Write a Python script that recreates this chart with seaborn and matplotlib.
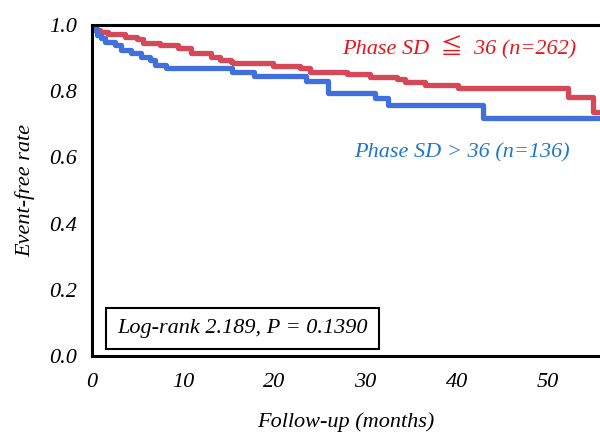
import pandas as pd
import matplotlib.pyplot as plt
import seaborn as sns

# step data
red_time = [0, 0.4, 0.9, 1.8, 3.6, 4.9, 5.6, 7.5, 9.4, 10.9, 13.0, 14.0, 15.2, 15.5,
            19.8, 22.8, 23.9, 28.0, 30.5, 33.4, 34.3, 36.5, 40.1, 52.2, 54.9, 55.7]
red_surv = [1.0, 0.985, 0.978, 0.972, 0.964, 0.958, 0.946, 0.94, 0.93, 0.915, 0.903, 0.894,
            0.889, 0.884, 0.876, 0.87, 0.858, 0.852, 0.843, 0.837, 0.828, 0.819, 0.811,
            0.782, 0.737, 0.737]
blue_time = [0, 0.3, 0.6, 1.0, 1.4, 2.5, 3.2, 4.3, 5.4, 6.4, 6.9, 8.1, 15.4, 17.8,
             23.5, 25.9, 31.0, 32.5, 42.9, 55.7]
blue_surv = [1.0, 0.985, 0.97, 0.96, 0.95, 0.94, 0.924, 0.915, 0.903, 0.894, 0.879, 0.87,
             0.858, 0.846, 0.831, 0.795, 0.78, 0.758, 0.719, 0.719]
groups = ['low', 'high']
x_ticks = [0, 10, 20, 30, 40, 50]
y_ticks = [0.0, 0.2, 0.4, 0.6, 0.8, 1.0]

df = pd.concat([
    pd.DataFrame({'time': red_time, 'surv': red_surv, 'group': groups[0]}),
    pd.DataFrame({'time': blue_time, 'surv': blue_surv, 'group': groups[1]}),
])

sns.set_theme(style="white")
plt.rcParams['font.family'] = ['Liberation Serif', 'Noto Sans CJK JP', 'DejaVu Sans']
plt.rcParams['font.style'] = 'italic'
plt.rcParams['text.color'] = 'black'
plt.rcParams['axes.labelcolor'] = 'black'
plt.rcParams['xtick.color'] = 'black'
plt.rcParams['ytick.color'] = 'black'

fig = plt.figure(figsize=(6, 4.36), dpi=100)
ax = fig.add_axes([0.1533, 0.1835, 0.8467, 0.759])

sns.lineplot(data=df, x='time', y='surv', hue='group', hue_order=groups,
             palette={'low': '#D64858', 'high': '#416FDC'}, estimator=None,
             drawstyle='steps-post', linewidth=3.8, legend=False, ax=ax)

ax.set_xlim(0, 55.7)
ax.set_ylim(0, 1.0)
ax.set_xticks(x_ticks)
ax.set_yticks(y_ticks)
ax.set_yticklabels([f'{v:.1f}' for v in y_ticks])
ax.tick_params(axis='both', length=0, labelsize=16)
ax.tick_params(axis='x', pad=12)
ax.tick_params(axis='y', pad=11)
for side in ['left', 'top', 'bottom']:
    ax.spines[side].set_color('black')
    ax.spines[side].set_linewidth(2.2)
ax.spines['right'].set_visible(False)

ax.set_xlabel('Follow-up (months)', fontsize=16, labelpad=15)
ax.set_ylabel('Event-free rate', fontsize=16, labelpad=10)

ax.text(0.722, 0.93, 'Phase SD  ≦  36 (n=262)', transform=ax.transAxes,
        ha='center', va='center', fontsize=16, color='#E8141E')
ax.text(0.728, 0.614, 'Phase SD > 36 (n=136)', transform=ax.transAxes,
        ha='center', va='center', fontsize=16, color='#1F78C8')
ax.text(0.296, 0.082, 'Log-rank 2.189, P = 0.1390', transform=ax.transAxes,
        ha='center', va='center', fontsize=16, color='black',
        bbox=dict(boxstyle='square,pad=0.5', facecolor='white', edgecolor='black', linewidth=1.5))

plt.savefig('out.png', dpi=100)
